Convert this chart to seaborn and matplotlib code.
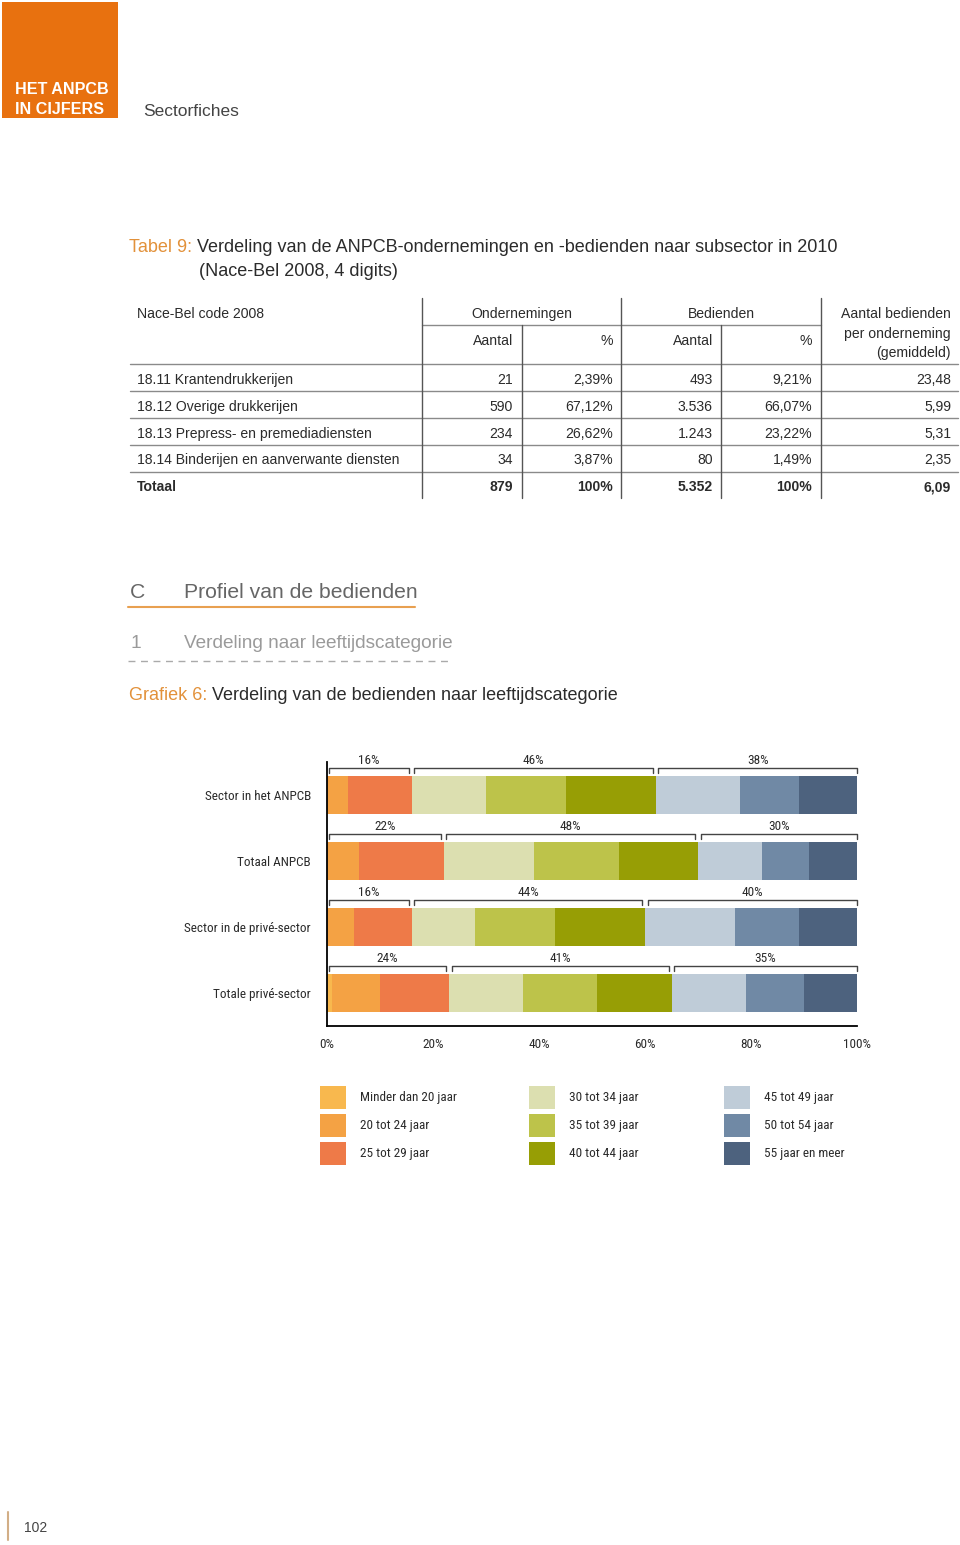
import matplotlib
matplotlib.use("Agg")
import matplotlib.pyplot as plt
from matplotlib import font_manager
from matplotlib.patches import Rectangle
import numpy as np
import pandas as pd
import seaborn as sns

# --- table data (Tabel 9) ---
nace_codes = ["18.11 Krantendrukkerijen", "18.12 Overige drukkerijen",
              "18.13 Prepress- en premediadiensten",
              "18.14 Binderijen en aanverwante diensten", "Totaal"]
ond_aantal = ["21", "590", "234", "34", "879"]
ond_pct = ["2,39%", "67,12%", "26,62%", "3,87%", "100%"]
bed_aantal = ["493", "3.536", "1.243", "80", "5.352"]
bed_pct = ["9,21%", "66,07%", "23,22%", "1,49%", "100%"]
per_ond = ["23,48", "5,99", "5,31", "2,35", "6,09"]

# --- chart data (Grafiek 6), % per age group ---
sectors = ["Sector in het ANPCB", "Totaal ANPCB",
           "Sector in de privé-sector", "Totale privé-sector"]
age_groups = ["Minder dan 20 jaar", "20 tot 24 jaar", "25 tot 29 jaar",
              "30 tot 34 jaar", "35 tot 39 jaar", "40 tot 44 jaar",
              "45 tot 49 jaar", "50 tot 54 jaar", "55 jaar en meer"]
sector_anpcb = [0, 4, 12, 14, 15, 17, 16, 11, 11]
totaal_anpcb = [0, 6, 16, 17, 16, 15, 12, 9, 9]
sector_prive = [0, 5, 11, 12, 15, 17, 17, 12, 11]
totaal_prive = [1, 9, 13, 14, 14, 14, 14, 11, 10]
group_labels = [["16%", "46%", "38%"], ["22%", "48%", "30%"],
                ["16%", "44%", "40%"], ["24%", "41%", "35%"]]

age_colors = ["#F8B84E", "#F4A244", "#EE7A48", "#DCDFB0", "#BDC34A",
              "#979E05", "#BFCCD8", "#7089A5", "#4D627E"]

ORANGE = "#E8710F"
TITLE_OR = "#E2913A"
DARK = "#2b2b2b"

sns.set_theme(style="white")
plt.rcParams["font.family"] = ["Liberation Sans", "DejaVu Sans"]

# condensed face for the chart, if one is installed
installed = {f.name for f in font_manager.fontManager.ttflist}
narrow_face = next((n for n in ["Liberation Sans Narrow", "Roboto Condensed",
                                "Open Sans Condensed", "DejaVu Sans Condensed"]
                    if n in installed), None)
if narrow_face:
    NARROW = [narrow_face, "DejaVu Sans"]
    CH_FS = 9.5
else:
    NARROW = ["Liberation Sans", "DejaVu Sans"]
    CH_FS = 8.3

W, H = 960, 1545
fig = plt.figure(figsize=(W / 100, H / 100), dpi=100)

# page layer in pixel coordinates
bg = fig.add_axes([0, 0, 1, 1])
bg.set_xlim(0, W)
bg.set_ylim(H, 0)
bg.axis("off")

# header block
bg.add_patch(Rectangle((2, 2), 116, 116, color=ORANGE, lw=0))
bg.text(15, 90, "HET ANPCB", color="white", fontsize=11.6, fontweight="bold", va="center")
bg.text(15, 109, "IN CIJFERS", color="white", fontsize=11.6, fontweight="bold", va="center")
bg.text(143, 112, "Sectorfiches", color="#444444", fontsize=12.5, va="center")

# table title
t1 = bg.text(129, 248, "Tabel 9:", color=TITLE_OR, fontsize=13, va="center")
bg.annotate(" Verdeling van de ANPCB-ondernemingen en -bedienden naar subsector in 2010",
            xy=(1, 0.5), xycoords=t1, color=DARK, fontsize=13, va="center")
bg.text(199, 272, "(Nace-Bel 2008, 4 digits)", color=DARK, fontsize=13, va="center")

# table lines
hcol = "#8a8a8a"
bg.plot([130, 958], [364, 364], color=hcol, lw=1)
for y in [391, 418, 445, 472]:
    bg.plot([130, 958], [y, y], color=hcol, lw=1)
bg.plot([422, 821], [325, 325], color=hcol, lw=1)
for x in [422, 621, 821]:
    bg.plot([x, x], [298, 498], color="#555555", lw=1)
for x in [522, 721]:
    bg.plot([x, x], [325, 498], color="#555555", lw=1)

# table header
tf = dict(fontsize=10.1, color=DARK, va="center")
bg.text(137, 314, "Nace-Bel code 2008", **tf)
bg.text(522, 314, "Ondernemingen", ha="center", **tf)
bg.text(721, 314, "Bedienden", ha="center", **tf)
bg.text(951, 314, "Aantal bedienden", ha="right", **tf)
bg.text(951, 334, "per onderneming", ha="right", **tf)
bg.text(951, 353, "(gemiddeld)", ha="right", **tf)
for x, s in zip([513, 613, 713, 812], ["Aantal", "%", "Aantal", "%"]):
    bg.text(x, 341, s, ha="right", **tf)

# table body
row_y = [380, 407, 434, 460, 487]
for i, y in enumerate(row_y):
    w = "bold" if i == len(row_y) - 1 else "normal"
    bg.text(137, y, nace_codes[i], fontweight=w, **tf)
    for x, col in zip([513, 613, 713, 812, 951],
                      [ond_aantal, ond_pct, bed_aantal, bed_pct, per_ond]):
        bg.text(x, y, col[i], ha="right", fontweight=w, **tf)

# section headings
bg.text(130, 593, "C", color="#666666", fontsize=15.2, va="center")
bg.text(184, 593, "Profiel van de bedienden", color="#666666", fontsize=15.2, va="center")
bg.plot([128, 415], [607, 607], color="#E8A050", lw=1.5)
bg.text(130, 644, "1", color="#9a9a9a", fontsize=13.7, va="center")
bg.text(184, 644, "Verdeling naar leeftijdscategorie", color="#9a9a9a", fontsize=13.7, va="center")
bg.plot([128, 453], [661, 661], color="#aaaaaa", lw=1, dashes=(5, 4))

t2 = bg.text(129, 695, "Grafiek 6:", color=TITLE_OR, fontsize=13, va="center")
bg.annotate(" Verdeling van de bedienden naar leeftijdscategorie",
            xy=(1, 0.5), xycoords=t2, color=DARK, fontsize=13, va="center")

# page number
bg.plot([8, 8], [1512, 1540], color="#D2AE86", lw=1.5)
bg.text(24, 1528, "102", color="#444444", fontsize=10, va="center")

# --- stacked bar chart ---
ax = fig.add_axes([327 / W, 1 - 1026 / H, 530 / W, 264 / H])
shares = [sector_anpcb, totaal_anpcb, sector_prive, totaal_prive]
df = pd.DataFrame({
    "sector": np.repeat(sectors, len(age_groups)),
    "age": age_groups * len(sectors),
    "value": np.concatenate(shares),
})
df["cum"] = df.groupby("sector", sort=False)["value"].cumsum()

for k in reversed(range(len(age_groups))):
    sub = df[df["age"] == age_groups[k]]
    sns.barplot(data=sub, x="cum", y="sector", order=sectors, orient="h",
                color=age_colors[k], saturation=1, width=0.576,
                errorbar=None, linewidth=0, ax=ax)

ax.set_xlim(0, 100)
ax.set_ylim(3.5, -0.5)
ax.set_xlabel("")
ax.set_ylabel("")
ax.set_xticks([0, 20, 40, 60, 80, 100])
ax.set_xticklabels(["0%", "20%", "40%", "60%", "80%", "100%"])
ax.tick_params(axis="x", direction="in", length=5, width=1.2, color="black",
               pad=9, labelsize=CH_FS, labelcolor=DARK)
ax.tick_params(axis="y", length=0, pad=11.5, labelsize=CH_FS, labelcolor=DARK)
for lab in ax.get_xticklabels() + ax.get_yticklabels():
    lab.set_family(NARROW)
ticks = ax.xaxis.get_major_ticks()
ticks[0].tick1line.set_visible(False)
ticks[-1].tick1line.set_visible(False)
sns.despine(ax=ax)
for side in ["left", "bottom"]:
    ax.spines[side].set_color("black")
    ax.spines[side].set_linewidth(1.3)
ax.grid(False)

# brackets with group totals
for i, vals in enumerate(shares):
    cum = np.cumsum(vals)
    edges = [0, cum[2], cum[5], 100]
    for g in range(3):
        x0 = edges[g] + (0.3 if g == 0 else 0.5)
        x1 = edges[g + 1] - (0 if g == 2 else 0.5)
        ax.plot([x0, x0, x1, x1], [i - 0.335, i - 0.41, i - 0.41, i - 0.335],
                color="#444444", lw=1, clip_on=False)
        ax.text((x0 + x1) / 2, i - 0.53, group_labels[i][g], ha="center",
                va="center", fontsize=CH_FS, color=DARK, family=NARROW)

# legend
col_x = [320, 529, 724]
row_ly = [1097, 1125, 1153]
for k, lab in enumerate(age_groups):
    c, r = k // 3, k % 3
    bg.add_patch(Rectangle((col_x[c], row_ly[r] - 11.5), 26, 23,
                           color=age_colors[k], lw=0))
    bg.text(col_x[c] + 40, row_ly[r] + 1, lab, fontsize=CH_FS, color=DARK,
            va="center", family=NARROW)

fig.savefig("out.png", dpi=100)
